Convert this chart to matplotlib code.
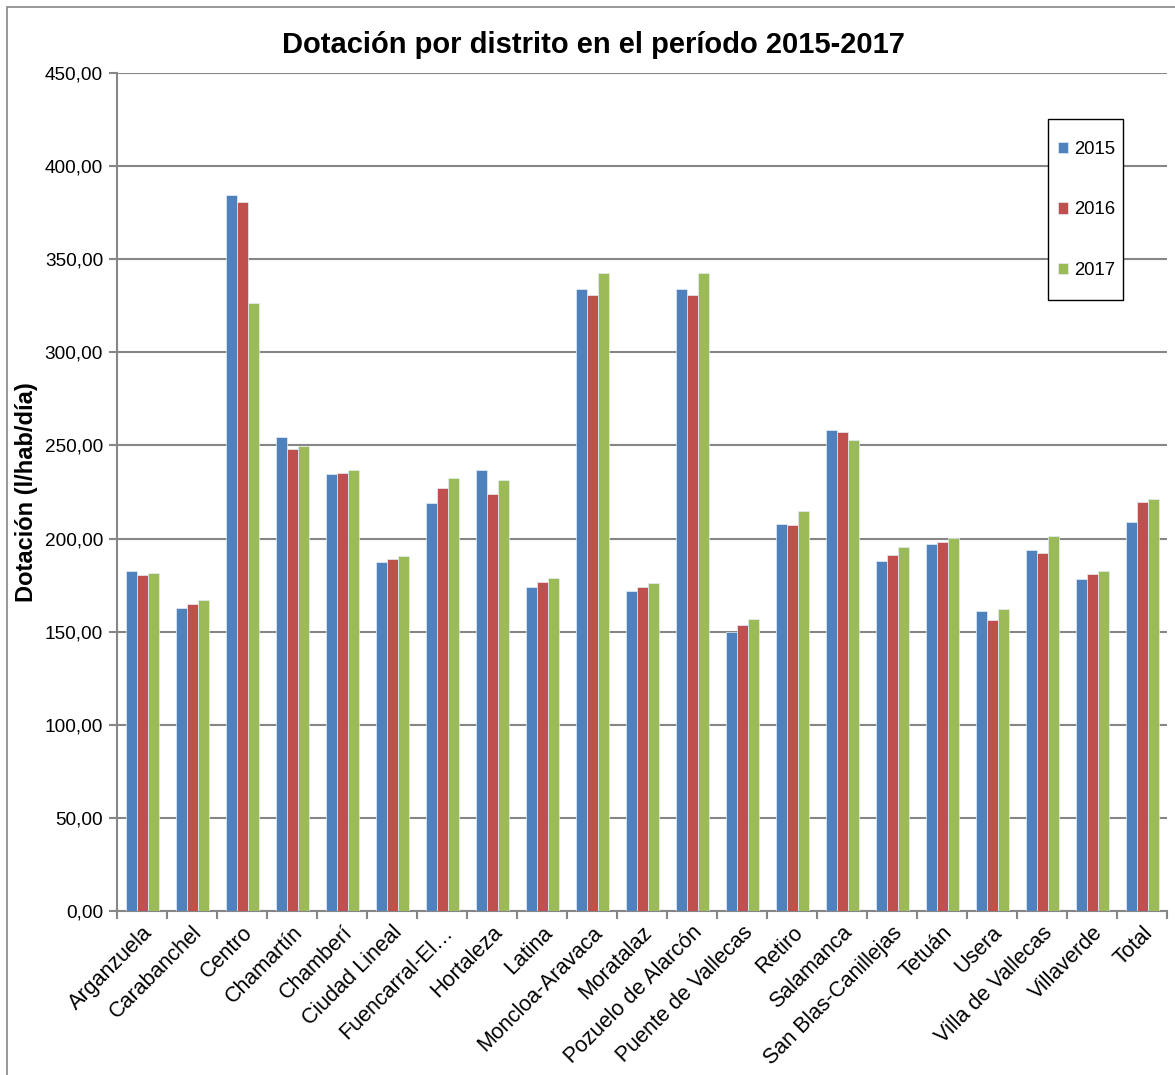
import numpy as np
import matplotlib
matplotlib.use('Agg')
from matplotlib import pyplot as plt
from matplotlib.ticker import FuncFormatter, FixedLocator
from matplotlib.patches import Rectangle

plt.rcParams['font.family'] = ['Liberation Sans', 'DejaVu Sans']

# datos
distritos = ['Arganzuela', 'Carabanchel', 'Centro', 'Chamartín', 'Chamberí',
             'Ciudad Lineal', 'Fuencarral-El…', 'Hortaleza', 'Latina',
             'Moncloa-Aravaca', 'Moratalaz', 'Pozuelo de Alarcón',
             'Puente de Vallecas', 'Retiro', 'Salamanca', 'San Blas-Canillejas',
             'Tetuán', 'Usera', 'Villa de Vallecas', 'Villaverde', 'Total']
d2015 = [182.8, 162.6, 384.5, 254.6, 234.5, 187.2, 218.9, 237.0, 174.2, 333.9,
         171.7, 333.9, 149.9, 208.0, 258.1, 187.8, 197.2, 161.0, 194.0, 178.5, 208.7]
d2016 = [180.3, 164.8, 380.8, 247.9, 235.2, 188.8, 227.3, 223.7, 176.5, 330.6,
         173.8, 330.6, 153.6, 207.4, 257.3, 191.2, 198.0, 156.5, 192.3, 180.7, 219.8]
d2017 = [181.3, 167.2, 326.7, 249.7, 236.7, 190.8, 232.5, 231.5, 178.7, 342.5,
         176.0, 342.5, 156.8, 214.6, 252.7, 195.6, 200.3, 162.0, 201.2, 182.6, 221.2]
anios = ['2015', '2016', '2017']
colores = ['#4F81BD', '#C0504D', '#9BBB59']

W, H = 1175, 1075
fig = plt.figure(figsize=(W/100, H/100), dpi=100)
ax = fig.add_axes([117/W, 1-911/H, 1050/W, 838/H])

# borde exterior del grafico
fig.patches.append(Rectangle((7/W, -10/H), 1200/W, (H-7+10)/H, transform=fig.transFigure,
                             fill=False, edgecolor='#868686', linewidth=1.2))

x = np.arange(len(distritos))
w = 0.22
for i, serie in enumerate([d2015, d2016, d2017]):
    ax.bar(x + (i - 1) * w, serie, width=w, color=colores[i], edgecolor='#E6EEF7',
           linewidth=0.5, label=anios[i], zorder=3)

ax.set_xlim(-0.5, len(distritos) - 0.5)
ax.set_ylim(0, 450)
ax.set_yticks(np.arange(0, 451, 50))
ax.yaxis.set_major_formatter(FuncFormatter(lambda v, p: f'{v:.2f}'.replace('.', ',')))
ax.grid(axis='y', color='#868686', linewidth=1.5, zorder=0)

ax.set_xticks(x)
ax.set_xticklabels(distritos, rotation=45, ha='right', rotation_mode='anchor', fontsize=15.5)
ax.tick_params(axis='x', which='major', length=0, pad=8)
ax.xaxis.set_minor_locator(FixedLocator(np.arange(-0.5, len(distritos), 1)))
ax.tick_params(axis='x', which='minor', length=6, width=1.5, color='#868686')
ax.tick_params(axis='y', length=6, width=1.5, color='#868686', labelsize=13.7, pad=4)

for s in ['top', 'right']:
    ax.spines[s].set_visible(False)
for s in ['left', 'bottom']:
    ax.spines[s].set_color('#868686')
    ax.spines[s].set_linewidth(1.5)

ax.set_ylabel('Dotación (l/hab/día)', fontsize=17, fontweight='bold')
ax.yaxis.set_label_coords(-(117-38)/1050, 0.5)
fig.text(593/W, 1-45/H, 'Dotación por distrito en el período 2015-2017',
         ha='center', va='center', fontsize=21, fontweight='bold')

# leyenda con marco propio
ax.add_patch(Rectangle((1048/W, 1-300/H), 75/W, 181/H, transform=fig.transFigure,
                       fill=True, facecolor='white', edgecolor='black', linewidth=1.0,
                       zorder=5, clip_on=False))
leg = ax.legend(loc='center left', bbox_to_anchor=(1058/W, 1-210/H), bbox_transform=fig.transFigure,
                fontsize=13.3, handlelength=0.55, handleheight=0.55, handletextpad=0.3,
                labelspacing=2.35, borderpad=0, frameon=False, borderaxespad=0)
leg.set_zorder(6)

plt.savefig('out.png', dpi=100)
